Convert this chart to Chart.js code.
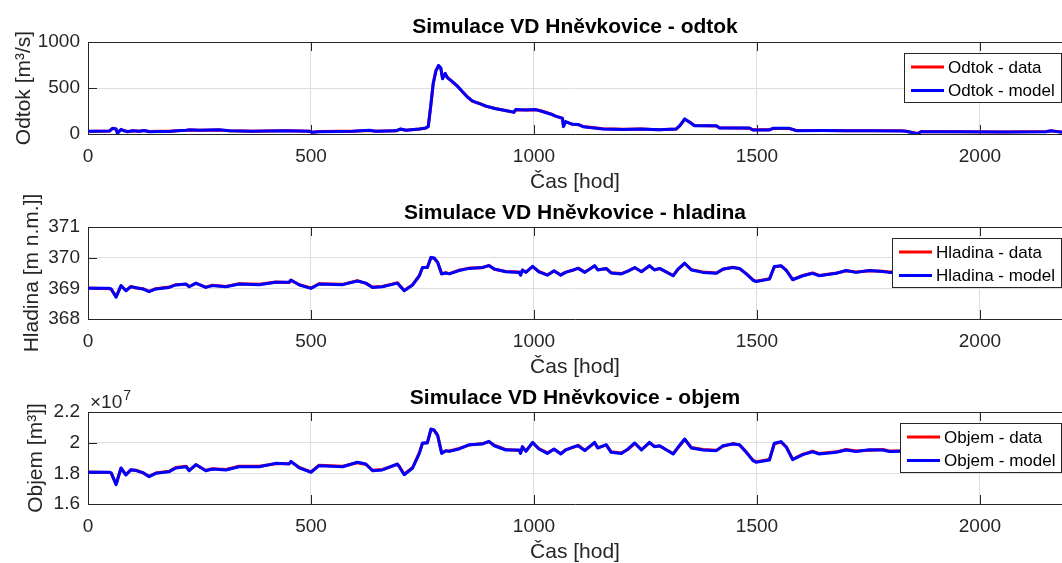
<!DOCTYPE html>
<html>
<head>
<meta charset="utf-8">
<script src="https://cdn.jsdelivr.net/npm/chart.js@4"></script>
<style>
  html, body { margin: 0; padding: 0; background: #fff; overflow: hidden; }
  .plot { position: absolute; left: 0; width: 1062px; height: 200px; }
  canvas { display: block; }
</style>
</head>
<body>
<div class="plot" style="top:0px"><canvas id="odtokChart" width="1062" height="200"></canvas></div>
<div class="plot" style="top:185px"><canvas id="hladinaChart" width="1062" height="200"></canvas></div>
<div class="plot" style="top:370px"><canvas id="objemChart" width="1062" height="200"></canvas></div>
<script>
// --- odtok [m3/s] ---
const odtokHours = [0, 20, 48, 55, 63, 66, 74, 81, 89, 100,
  115, 126, 137, 160, 182, 200, 220, 227, 250, 294,
  317, 369, 400, 444, 496, 503, 518, 560, 593, 631,
  645, 690, 701, 713, 743, 757, 763, 769, 774, 780,
  786, 791, 795, 801, 806, 817, 828, 840, 851, 862,
  877, 892, 914, 937, 955, 959, 982, 1004, 1019, 1038,
  1049, 1064, 1066, 1071, 1086, 1100, 1110, 1155, 1200, 1240,
  1280, 1319, 1327, 1338, 1349, 1360, 1409, 1416, 1483, 1491,
  1528, 1536, 1573, 1588, 1650, 1700, 1760, 1827, 1834, 1860,
  1868, 1950, 2050, 2148, 2159, 2184];
const odtokData = [28, 31, 33, 60, 52, 10, 48, 36, 27, 34,
  31, 37, 27, 29, 30, 36, 41, 44, 41, 44,
  36, 31, 33, 34, 31, 20, 26, 29, 31, 39,
  31, 34, 52, 41, 54, 63, 85, 320, 540, 690,
  740, 715, 605, 655, 615, 565, 525, 455, 405, 355,
  335, 300, 278, 252, 238, 262, 262, 263, 247, 218,
  192, 172, 85, 132, 107, 100, 82, 57, 52, 53,
  47, 53, 88, 160, 130, 92, 88, 67, 63, 46,
  45, 60, 60, 38, 37, 36, 35, 34, 30, 5,
  26, 24, 23, 26, 34, 22];
const odtokModel = [30, 30, 32, 62, 55, 8, 50, 35, 25, 35,
  30, 38, 25, 28, 28, 35, 40, 45, 40, 45,
  35, 30, 32, 35, 30, 18, 25, 28, 30, 40,
  30, 35, 55, 40, 55, 65, 80, 330, 550, 680,
  745, 720, 600, 660, 610, 570, 520, 460, 400, 360,
  330, 305, 275, 255, 235, 265, 260, 265, 245, 215,
  195, 170, 80, 135, 105, 102, 80, 55, 50, 55,
  45, 55, 90, 164, 127, 90, 90, 65, 65, 44,
  44, 62, 62, 36, 38, 35, 36, 33, 29, 2,
  25, 25, 22, 25, 36, 20];

// --- hladina [m n.m.] and objem [10^7 m3], same time steps ---
const hours = [0, 48, 52, 63, 74, 85, 96, 108, 123, 137,
  152, 182, 197, 220, 227, 242, 264, 279, 309, 339,
  384, 421, 451, 455, 474, 500, 518, 571, 604, 623,
  638, 660, 694, 698, 709, 728, 743, 750, 761, 769,
  776, 784, 793, 802, 810, 832, 855, 884, 899, 911,
  937, 967, 970, 974, 982, 997, 1011, 1030, 1045, 1060,
  1071, 1090, 1099, 1114, 1136, 1143, 1162, 1173, 1196, 1211,
  1226, 1241, 1259, 1270, 1282, 1312, 1323, 1338, 1353, 1379,
  1409, 1424, 1446, 1461, 1476, 1491, 1498, 1528, 1539, 1554,
  1566, 1580, 1603, 1625, 1640, 1678, 1700, 1722, 1752, 1782,
  1797, 1850, 1950, 2050, 2184];
const hladinaData = [369.01, 368.99, 368.97, 368.73, 369.08, 368.93, 369.06, 369.01, 368.99, 368.9,
  368.99, 369.04, 369.12, 369.13, 369.06, 369.16, 369.04, 369.1, 369.06, 369.15,
  369.13, 369.21, 369.19, 369.26, 369.12, 369.01, 369.15, 369.13, 369.25, 369.16,
  369.04, 369.06, 369.18, 369.11, 368.93, 369.12, 369.42, 369.67, 369.69, 370.0,
  369.98, 369.84, 369.48, 369.51, 369.48, 369.59, 369.66, 369.67, 369.75, 369.62,
  369.55, 369.53, 369.44, 369.59, 369.53, 369.71, 369.55, 369.44, 369.56, 369.44,
  369.53, 369.6, 369.66, 369.53, 369.73, 369.61, 369.64, 369.51, 369.48, 369.57,
  369.67, 369.55, 369.73, 369.61, 369.64, 369.42, 369.62, 369.81, 369.61, 369.53,
  369.5, 369.62, 369.69, 369.64, 369.48, 369.28, 369.23, 369.31, 369.7, 369.73,
  369.59, 369.29, 369.42, 369.5, 369.42, 369.5, 369.57, 369.53, 369.57, 369.56,
  369.53, 369.54, 369.57, 369.55, 369.54];
const hladinaModel = [369.0, 369.0, 368.98, 368.71, 369.09, 368.92, 369.05, 369.02, 368.98, 368.89,
  368.98, 369.03, 369.11, 369.14, 369.05, 369.17, 369.03, 369.09, 369.05, 369.14,
  369.12, 369.2, 369.2, 369.27, 369.11, 369.0, 369.14, 369.12, 369.24, 369.17,
  369.03, 369.05, 369.17, 369.1, 368.92, 369.11, 369.41, 369.68, 369.68, 370.01,
  369.99, 369.85, 369.47, 369.5, 369.47, 369.58, 369.65, 369.68, 369.74, 369.63,
  369.54, 369.52, 369.43, 369.6, 369.52, 369.72, 369.54, 369.43, 369.57, 369.43,
  369.52, 369.61, 369.65, 369.52, 369.74, 369.6, 369.65, 369.5, 369.47, 369.56,
  369.68, 369.54, 369.74, 369.6, 369.65, 369.41, 369.63, 369.82, 369.6, 369.52,
  369.49, 369.63, 369.68, 369.65, 369.47, 369.27, 369.22, 369.3, 369.71, 369.74,
  369.58, 369.28, 369.41, 369.49, 369.41, 369.49, 369.58, 369.52, 369.58, 369.55,
  369.52, 369.55, 369.56, 369.54, 369.55];
const objemData = [1.809, 1.805, 1.801, 1.73, 1.833, 1.792, 1.822, 1.82, 1.803, 1.781,
  1.802, 1.813, 1.838, 1.846, 1.82, 1.855, 1.82, 1.83, 1.825, 1.846,
  1.846, 1.862, 1.864, 1.875, 1.838, 1.81, 1.853, 1.846, 1.869, 1.858,
  1.82, 1.825, 1.858, 1.846, 1.794, 1.838, 1.935, 1.995, 2.001, 2.085,
  2.08, 2.05, 1.935, 1.945, 1.946, 1.962, 1.984, 1.994, 2.006, 1.983,
  1.955, 1.949, 1.933, 1.971, 1.946, 1.999, 1.962, 1.933, 1.956, 1.929,
  1.955, 1.971, 1.983, 1.951, 1.999, 1.968, 1.984, 1.94, 1.933, 1.956,
  1.995, 1.955, 1.999, 1.977, 1.977, 1.929, 1.967, 2.021, 1.968, 1.955,
  1.951, 1.977, 1.994, 1.984, 1.94, 1.886, 1.875, 1.89, 1.993, 2.004,
  1.973, 1.892, 1.925, 1.944, 1.929, 1.94, 1.955, 1.946, 1.951, 1.955,
  1.946, 1.948, 1.944, 1.949, 1.948];
const objemModel = [1.807, 1.807, 1.803, 1.726, 1.835, 1.789, 1.824, 1.818, 1.805, 1.778,
  1.8, 1.811, 1.835, 1.843, 1.817, 1.857, 1.817, 1.828, 1.822, 1.843,
  1.843, 1.865, 1.861, 1.878, 1.835, 1.807, 1.85, 1.843, 1.872, 1.861,
  1.817, 1.822, 1.861, 1.843, 1.791, 1.835, 1.93, 1.998, 1.998, 2.089,
  2.083, 2.046, 1.93, 1.948, 1.943, 1.959, 1.987, 1.991, 2.009, 1.98,
  1.952, 1.952, 1.93, 1.974, 1.943, 2.002, 1.959, 1.93, 1.959, 1.926,
  1.952, 1.974, 1.98, 1.948, 2.002, 1.965, 1.987, 1.937, 1.93, 1.959,
  1.998, 1.952, 2.002, 1.974, 1.98, 1.926, 1.97, 2.024, 1.965, 1.952,
  1.948, 1.98, 1.991, 1.987, 1.937, 1.883, 1.872, 1.887, 1.996, 2.007,
  1.97, 1.889, 1.922, 1.941, 1.926, 1.937, 1.952, 1.943, 1.954, 1.952,
  1.943, 1.945, 1.947, 1.946, 1.945];

// axis ticks
const xTicks = [0, 500, 1000, 1500, 2000];
const odtokTicks = [0, 500, 1000];
const hladinaTicks = [368, 369, 370, 371];
const objemTicks = [1.6, 1.8, 2, 2.2];

const FONT = "'Liberation Sans', Arial, Helvetica, sans-serif";
const ink = '#262626';
const gridCol = '#dedede';
Chart.defaults.font.family = FONT;

function toPoints(xs, ys) {
  return xs.map((x, i) => ({ x: x, y: ys[i] }));
}

// box, inward ticks (matlab style)
const matlabAxes = {
  id: 'matlabAxes',
  beforeDatasetsDraw(chart) {
    const { ctx, chartArea: a, scales: { x, y } } = chart;
    ctx.save();
    ctx.strokeStyle = ink;
    ctx.lineWidth = 1;
    ctx.beginPath();
    x.ticks.forEach(t => {
      const px = Math.round(x.getPixelForValue(t.value)) + 0.5;
      ctx.moveTo(px, a.bottom); ctx.lineTo(px, a.bottom - 9);
      ctx.moveTo(px, a.top); ctx.lineTo(px, a.top + 9);
    });
    y.ticks.forEach(t => {
      const py = Math.round(y.getPixelForValue(t.value)) + 0.5;
      ctx.moveTo(a.left, py); ctx.lineTo(a.left + 9, py);
    });
    const ty = Math.round(a.top) + 0.5;
    ctx.moveTo(a.left, ty); ctx.lineTo(a.right, ty);
    ctx.stroke();
    ctx.restore();
  }
};

// legend inside the axes, top right
const insideLegend = {
  id: 'insideLegend',
  afterDraw(chart) {
    const { ctx, chartArea } = chart;
    const items = chart.data.datasets;
    ctx.save();
    ctx.font = '17px ' + FONT;
    const textW = Math.max(...items.map(d => ctx.measureText(d.label).width));
    const w = Math.round(7 + 33 + 4 + textW + 6);
    const h = 49;
    const x0 = Math.round(chartArea.right - 1 - w);
    const y0 = Math.round(chartArea.top + 11);
    ctx.fillStyle = '#fff';
    ctx.fillRect(x0, y0, w, h);
    ctx.strokeStyle = ink;
    ctx.lineWidth = 1;
    ctx.strokeRect(x0 + 0.5, y0 + 0.5, w, h);
    items.forEach((d, i) => {
      const yy = y0 + 14 + i * 23.5;
      ctx.strokeStyle = d.borderColor;
      ctx.lineWidth = 3;
      ctx.beginPath();
      ctx.moveTo(x0 + 7, yy);
      ctx.lineTo(x0 + 40, yy);
      ctx.stroke();
      ctx.fillStyle = '#000';
      ctx.textBaseline = 'middle';
      ctx.fillText(d.label, x0 + 44, yy + 1);
    });
    ctx.restore();
  }
};

// "x10^7" above the y axis
const exponentLabel = {
  id: 'exponentLabel',
  afterDraw(chart) {
    const { ctx, chartArea } = chart;
    ctx.save();
    ctx.fillStyle = ink;
    ctx.textBaseline = 'alphabetic';
    ctx.font = '19px ' + FONT;
    const x0 = chartArea.left + 2;
    ctx.fillText('\u00d710', x0, chartArea.top - 4);
    const w = ctx.measureText('\u00d710').width;
    ctx.font = '14px ' + FONT;
    ctx.fillText('7', x0 + w + 1, chartArea.top - 12);
    ctx.restore();
  }
};

function makeChart(id, cfg) {
  return new Chart(document.getElementById(id), {
    type: 'line',
    data: {
      datasets: [
        { label: cfg.names[0], data: toPoints(cfg.hours, cfg.data), borderColor: '#ff0000', borderWidth: 3, order: 2 },
        { label: cfg.names[1], data: toPoints(cfg.hours, cfg.model), borderColor: '#0000ff', borderWidth: 3, order: 1 }
      ]
    },
    options: {
      responsive: false,
      animation: false,
      elements: { point: { radius: 0 }, line: { tension: 0, borderJoinStyle: 'round' } },
      layout: { padding: 0 },
      scales: {
        x: {
          type: 'linear', min: 0, max: 2184,
          afterBuildTicks: s => { s.ticks = xTicks.map(v => ({ value: v })); },
          afterFit: s => { s.height = 66; },
          ticks: { padding: 11, color: ink, font: { size: 19 }, maxRotation: 0, callback: v => String(v) },
          grid: { color: gridCol, drawTicks: false },
          border: { color: ink },
          title: { display: true, text: 'Čas [hod]', color: ink, font: { size: 21 }, padding: { top: 0, bottom: 5 } }
        },
        y: {
          min: cfg.yTicks[0], max: cfg.yTicks[cfg.yTicks.length - 1],
          afterBuildTicks: s => { s.ticks = cfg.yTicks.map(v => ({ value: v })); },
          afterFit: s => { s.width = 88; },
          ticks: { padding: 8, color: ink, font: { size: 19 }, callback: v => String(v) },
          grid: { color: gridCol, drawTicks: false },
          border: { color: ink },
          title: { display: true, text: cfg.yTitle, color: ink, font: { size: 21 }, padding: { top: cfg.yTitlePad, bottom: 0 } }
        }
      },
      plugins: {
        legend: { display: false },
        tooltip: { enabled: false },
        title: {
          display: true, text: cfg.title, fullSize: false, color: '#000',
          font: { size: 21, weight: 'bold' },
          padding: { top: cfg.titleTop, bottom: 42 - 25.2 - cfg.titleTop }
        }
      }
    },
    plugins: cfg.extra ? [matlabAxes, insideLegend, cfg.extra] : [matlabAxes, insideLegend]
  });
}

makeChart('odtokChart', {
  title: 'Simulace VD Hněvkovice - odtok', titleTop: 15,
  yTitle: 'Odtok [m³/s]', yTitlePad: 12, yTicks: odtokTicks,
  names: ['Odtok - data', 'Odtok - model'],
  hours: odtokHours, data: odtokData, model: odtokModel
});
makeChart('hladinaChart', {
  title: 'Simulace VD Hněvkovice - hladina', titleTop: 16,
  yTitle: 'Hladina [m n.m.]]', yTitlePad: 20, yTicks: hladinaTicks,
  names: ['Hladina - data', 'Hladina - model'],
  hours: hours, data: hladinaData, model: hladinaModel
});
makeChart('objemChart', {
  title: 'Simulace VD Hněvkovice - objem', titleTop: 16,
  yTitle: 'Objem [m³]]', yTitlePad: 24, yTicks: objemTicks,
  names: ['Objem - data', 'Objem - model'],
  hours: hours, data: objemData, model: objemModel,
  extra: exponentLabel
});
</script>
</body>
</html>
